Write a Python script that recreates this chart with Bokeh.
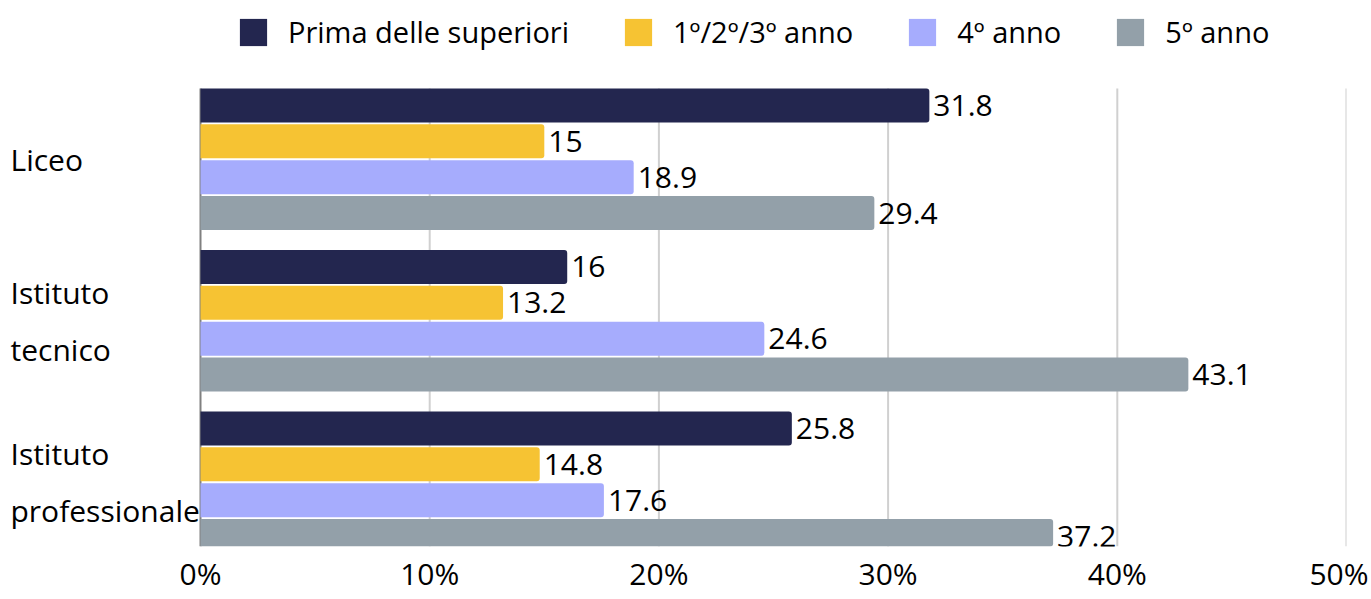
from bokeh.plotting import figure
from bokeh.models import (ColumnDataSource, LabelSet, Legend, LegendItem,
                          FixedTicker, Range1d)
from bokeh.core.properties import value
from bokeh.embed import file_html
from bokeh.resources import INLINE

# ---- data ----
categories = ["Liceo", "Istituto tecnico", "Istituto professionale"]
category_labels = ["Liceo", "Istituto\ntecnico", "Istituto\nprofessionale"]
series_names = ["Prima delle superiori", "1º/2º/3º anno", "4º anno", "5º anno"]
prima = [31.8, 16, 25.8]
anni123 = [15, 13.2, 14.8]
anno4 = [18.9, 24.6, 17.6]
anno5 = [29.4, 43.1, 37.2]
tick_values = [0, 10, 20, 30, 40, 50]
tick_labels = ["0%", "10%", "20%", "30%", "40%", "50%"]

series_values = [prima, anni123, anno4, anno5]
colors = ["#23264F", "#F6C333", "#A6ACFD", "#93A0A9"]
offsets = [0.333, 0.111, -0.111, -0.333]
BAR_H = 0.211
FONT = "Open Sans"
FS = "30px"
LEG_FS = "29px"

# ---- layout constants (pixels) ----
W, H = 1368, 598
BOTTOM = 52
RIGHT = 22
FRAME_W = W - RIGHT
FRAME_H = H - BOTTOM
PLOT_LEFT = 200          # where 0 % sits
PX_PER_CAT = 161.5
TOP_CENTER = 158.75      # pixel centre of the first group
BOTTOM_CENTER = 481.75   # pixel centre of the last group

n = len(categories)
cat_pos = [n - 1 - i for i in range(n)]   # first category at the top
x_end = tick_values[-1]
x_start = -PLOT_LEFT / (FRAME_W - PLOT_LEFT) * x_end
y_start = (n - 1) - (n - 1) - (FRAME_H - BOTTOM_CENTER) / PX_PER_CAT
y_end = (n - 1) + TOP_CENTER / PX_PER_CAT

p = figure(width=W, height=H, x_range=Range1d(x_start, x_end),
           y_range=Range1d(y_start, y_end), output_backend="svg",
           toolbar_location=None, y_axis_location=None,
           min_border_left=0, min_border_right=RIGHT, min_border_top=0,
           min_border_bottom=BOTTOM)
p.outline_line_color = None
p.grid.visible = False
p.xaxis.ticker = FixedTicker(ticks=tick_values)
p.xaxis.major_label_overrides = {t: l for t, l in zip(tick_values, tick_labels)}
p.xaxis.axis_line_color = None
p.xaxis.major_tick_line_color = None
p.xaxis.minor_tick_line_color = None
p.xaxis.major_tick_out = 0
p.xaxis.major_tick_in = 0
p.xaxis.minor_tick_out = 0
p.xaxis.major_label_text_font = FONT
p.xaxis.major_label_text_font_size = FS
p.xaxis.major_label_text_color = "black"
p.xaxis.major_label_standoff = 6

# grid lines and baseline, spanning the bar area
grid_top = max(cat_pos) + offsets[0] + BAR_H / 2
k = len(tick_values) - 1
p.segment(x0=tick_values[1:], x1=tick_values[1:], y0=[y_start] * k,
          y1=[grid_top] * k, line_color="#d0d0d0", line_width=2)
p.segment(x0=[tick_values[0]], x1=[tick_values[0]], y0=[y_start],
          y1=[grid_top], line_color="#808080", line_width=2)

items = []
for name, vals, col, off in zip(series_names, series_values, colors, offsets):
    src = ColumnDataSource(dict(y=[c + off for c in cat_pos], v=vals,
                                txt=[f"{x:g}" for x in vals]))
    r = p.hbar(y="y", right="v", left=0, height=BAR_H, source=src,
               fill_color=col, line_color=None,
               border_radius={"top_left": 0, "top_right": 3,
                              "bottom_right": 3, "bottom_left": 0})
    items.append(LegendItem(label=name, renderers=[r]))
    p.add_layout(LabelSet(x="v", y="y", text="txt", source=src, x_offset=4,
                          text_baseline="middle", text_align="left",
                          text_font=value(FONT), text_font_size=value(FS),
                          text_color="black"))

# category labels, left-aligned at the left edge
lsrc = ColumnDataSource(dict(y=cat_pos, lab=category_labels))
p.text(x=x_start, y="y", text="lab", source=lsrc, x_offset=10,
       text_align="left", text_baseline="middle", text_font=value(FONT),
       text_font_size=value(FS), text_color="black", text_line_height=1.4)

legend = Legend(items=items, orientation="horizontal",
                location=(236, FRAME_H - 51),
                glyph_width=34, glyph_height=34, label_height=34,
                label_standoff=18, spacing=52, padding=0, margin=0,
                label_text_font=FONT, label_text_font_size=LEG_FS,
                label_text_color="black", border_line_color=None,
                background_fill_alpha=0)
p.add_layout(legend)

open("out.html", "w").write(file_html(p, INLINE))
